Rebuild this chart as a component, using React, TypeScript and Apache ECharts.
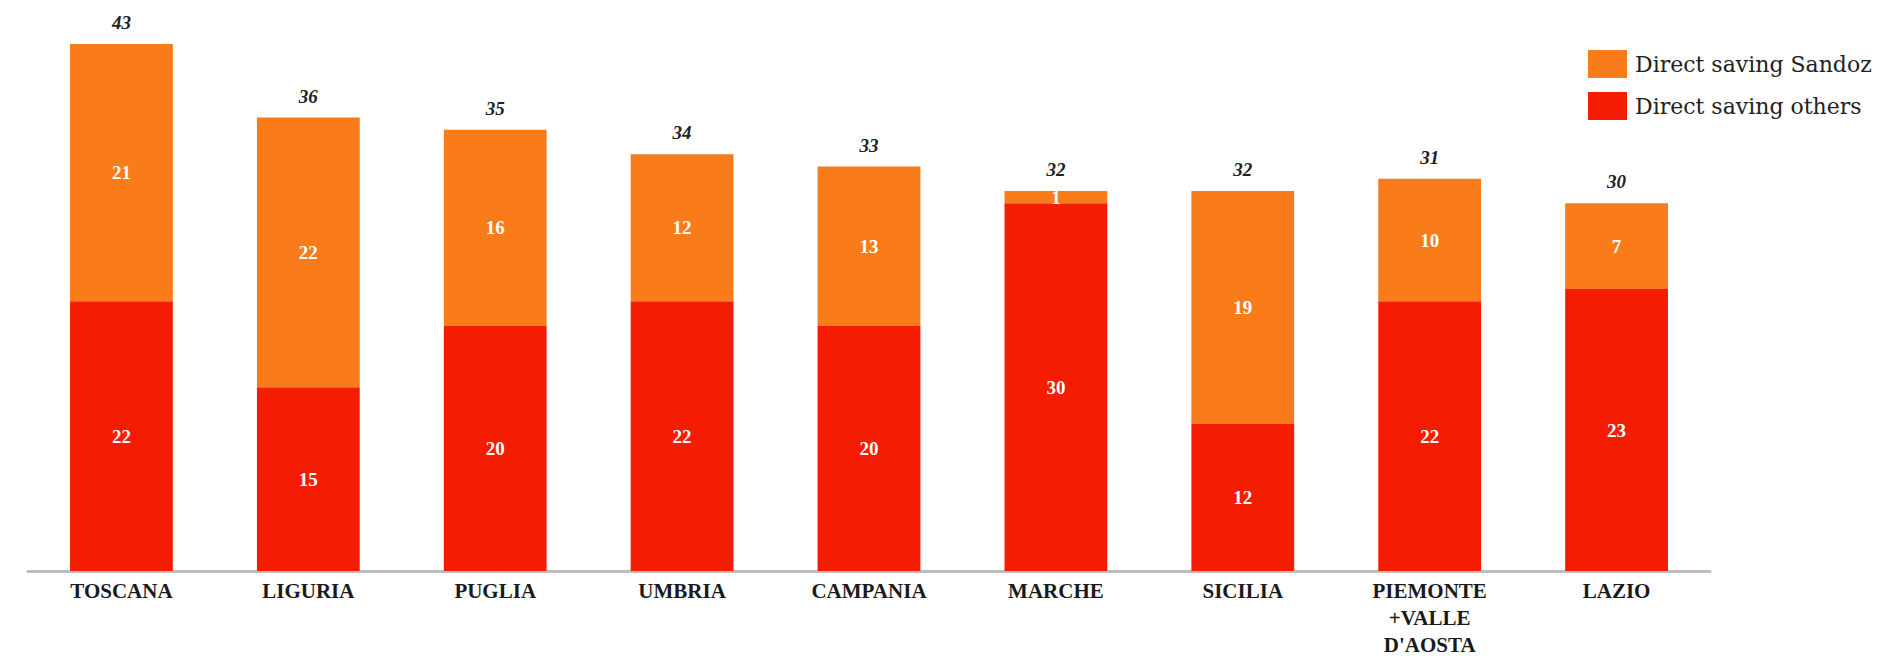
import React, { useEffect, useRef } from "react";
import * as echarts from "echarts";

const categories = [
  "TOSCANA",
  "LIGURIA",
  "PUGLIA",
  "UMBRIA",
  "CAMPANIA",
  "MARCHE",
  "SICILIA",
  "PIEMONTE\n+VALLE\nD'AOSTA",
  "LAZIO",
];
const savingOthers = [22, 15, 20, 22, 20, 30, 12, 22, 23];
const savingSandoz = [21, 22, 16, 12, 13, 1, 19, 10, 7];
const totals = [43, 36, 35, 34, 33, 32, 32, 31, 30];

const ORANGE = "#F97B1A";
const RED = "#F41C02";

export default function App() {
  const ref = useRef<HTMLDivElement>(null);
  useEffect(() => {
    if (!ref.current) return;
    const chart = echarts.init(ref.current, null, { renderer: "svg" });
    chart.setOption({
      animation: false,
      backgroundColor: "#ffffff",
      grid: { left: 28, right: 186, top: 44, bottom: 86, containLabel: false },
      legend: {
        orient: "vertical",
        left: 1583,
        top: 45,
        itemWidth: 39,
        itemHeight: 28,
        itemGap: 14,
        icon: "rect",
        data: ["Direct saving Sandoz", "Direct saving others"],
        textStyle: {
          fontFamily: "DejaVu Serif",
          fontSize: 22,
          color: "#222222",
          padding: [0, 0, 0, 3],
        },
      },
      xAxis: {
        type: "category",
        data: categories,
        axisLine: { show: true, lineStyle: { color: "#bdbdbd", width: 3 } },
        axisTick: { show: false },
        axisLabel: {
          interval: 0,
          margin: 6,
          color: "#1a1a1a",
          fontFamily: "Liberation Serif",
          fontWeight: "bold",
          fontSize: 21,
          lineHeight: 27,
          verticalAlign: "top",
        },
      },
      yAxis: {
        type: "value",
        min: 0,
        max: 43,
        show: false,
        splitLine: { show: false },
      },
      series: [
        {
          name: "Direct saving others",
          type: "bar",
          stack: "total",
          barCategoryGap: "45%",
          data: savingOthers,
          itemStyle: { color: RED },
          label: {
            show: true,
            position: "inside",
            color: "#ffffff",
            fontFamily: "Liberation Serif",
            fontWeight: "bold",
            fontSize: 19,
          },
        },
        {
          name: "Direct saving Sandoz",
          type: "bar",
          stack: "total",
          barCategoryGap: "45%",
          data: savingSandoz,
          itemStyle: { color: ORANGE },
          label: {
            show: true,
            position: "inside",
            color: "#ffffff",
            fontFamily: "Liberation Serif",
            fontWeight: "bold",
            fontSize: 19,
          },
        },
        {
          name: "totals",
          type: "bar",
          stack: "total",
          barCategoryGap: "45%",
          data: totals.map(() => 0),
          itemStyle: { color: "transparent" },
          label: {
            show: true,
            position: "top",
            distance: 12,
            formatter: (p: any) => String(totals[p.dataIndex]),
            color: "#222222",
            fontFamily: "Liberation Serif",
            fontStyle: "italic",
            fontWeight: "bold",
            fontSize: 19,
          },
        },
      ],
    });
    return () => chart.dispose();
  }, []);
  return (
    <div
      ref={ref}
      style={{ position: "absolute", left: 0, top: 0, width: 1896, height: 658 }}
    />
  );
}
